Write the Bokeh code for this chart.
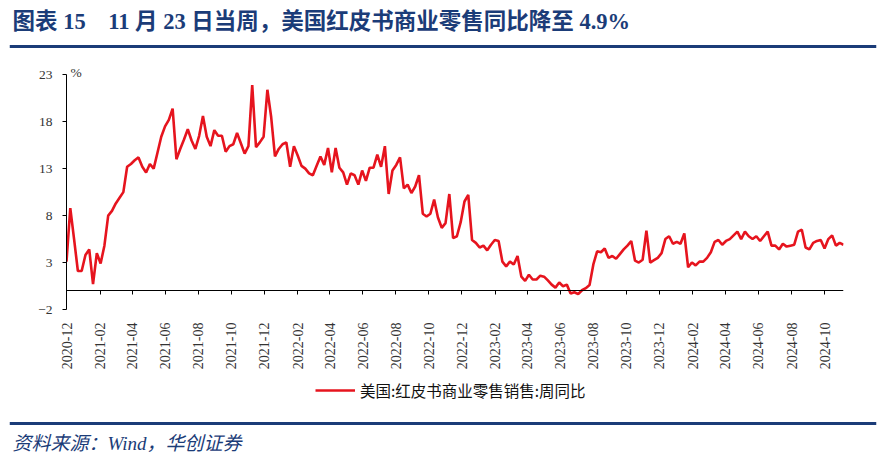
import math
import pandas as pd
from bokeh.plotting import figure
from bokeh.models import (Range1d, FixedTicker, DatetimeTickFormatter, DatetimeAxis,
                          Label, Span, Legend, LegendItem, ColumnDataSource)
from bokeh.embed import file_html
from bokeh.resources import INLINE

# ---------------- data ----------------
title_text = "图表 15　11 月 23 日当周，美国红皮书商业零售同比降至 4.9%"
source_text = "资料来源：Wind，华创证券"
legend_label = "美国:红皮书商业零售销售:周同比"
unit_label = "%"

first_week = "2020-12-19"          # week-ending dates, weekly
values_2021 = [3.1, 8.8, 5.5, 2.1, 2.1, 3.8, 4.4, 0.7, 4.0, 2.9, 4.8, 8.0, 8.5, 9.3, 9.9,
               10.5, 13.2, 13.5, 13.9, 14.2, 13.2, 12.6, 13.5, 13.0, 14.7, 16.4, 17.5, 18.2,
               19.4, 14.0, 15.1, 16.1, 17.2, 16.0, 15.1, 16.5, 18.6, 16.4, 15.4, 17.1, 16.5,
               16.5, 14.8, 15.4, 15.6, 16.8, 15.7, 14.6, 15.4, 21.9, 15.3, 15.8]
values_2022 = [16.4, 21.4, 18.5, 14.3, 15.1, 15.6, 15.8, 13.2, 15.4, 14.4, 13.3, 13.0, 12.5,
               12.3, 13.3, 14.3, 13.4, 15.2, 12.6, 15.2, 13.1, 12.6, 11.3, 12.5, 12.3, 11.3,
               12.8, 11.7, 13.1, 13.1, 14.5, 13.2, 15.4, 10.3, 12.8, 13.4, 14.2, 10.9, 11.3,
               10.4, 11.1, 12.3, 8.2, 7.9, 8.2, 9.7, 7.8, 6.7, 7.2, 10.3, 5.6]
values_2023 = [5.8, 7.3, 9.5, 10.2, 5.4, 5.1, 4.6, 4.8, 4.3, 4.9, 5.4, 5.3, 3.1, 2.6, 3.1,
               2.8, 3.7, 1.5, 1.05, 1.7, 1.2, 1.2, 1.6, 1.5, 1.1, 0.65, 0.33, 0.87, 0.48,
               0.65, -0.3, -0.16, -0.37, 0.05, 0.27, 0.6, 2.8, 4.2, 4.1, 4.5, 3.5, 3.7, 3.4,
               3.9, 4.4, 4.8, 5.3, 3.2, 3.0, 3.3, 6.4, 3.0]
values_2024 = [3.25, 3.5, 4.0, 5.5, 5.8, 5.0, 5.2, 5.0, 6.1, 2.5, 3.0, 2.7, 3.1, 3.1, 3.5,
               4.1, 5.2, 5.4, 4.9, 5.3, 5.5, 5.9, 6.3, 5.5, 6.3, 5.8, 5.5, 5.8, 5.3, 5.8,
               6.3, 4.8, 4.8, 4.4, 5.0, 4.7, 4.8, 4.9, 6.3, 6.5, 4.6, 4.4, 5.1, 5.3, 5.4,
               4.5, 5.5, 5.9, 4.8, 5.1, 4.9]

y_ticks = [-2, 3, 8, 13, 18, 23]
x_tick_labels = ["2020-12", "2021-02", "2021-04", "2021-06", "2021-08", "2021-10",
                 "2021-12", "2022-02", "2022-04", "2022-06", "2022-08", "2022-10",
                 "2022-12", "2023-02", "2023-04", "2023-06", "2023-08", "2023-10",
                 "2023-12", "2024-02", "2024-04", "2024-06", "2024-08", "2024-10"]

# ---------------- build ----------------
values = values_2021 + values_2022 + values_2023 + values_2024
dates = pd.date_range(first_week, periods=len(values), freq="7D")
src = ColumnDataSource(dict(date=dates, value=values))

tick_day = pd.Timestamp(first_week).day
tick_ms = [pd.Timestamp(f"{s}-{tick_day:02d}").value / 1e6 for s in x_tick_labels]
start_ms = dates[0].value / 1e6
end_ms = dates[-1].value / 1e6

NAVY = "#1B3C78"
RED = "#E6141E"
SERIF = "Liberation Serif, Noto Sans CJK SC"
W = 884


def strip(height):
    f = figure(width=W, height=height, x_range=Range1d(0, W - 17), y_range=Range1d(0, height),
               toolbar_location=None, output_backend="svg", x_axis_location=None,
               y_axis_location=None, min_border=0, min_border_left=9, min_border_right=8,
               outline_line_color=None)
    f.grid.visible = False
    return f


# title block (page y 0..52)
head = strip(52)
head.add_layout(Label(x=3, y=31, text=title_text, text_font=SERIF, text_font_size="22.5px",
                      text_font_style="bold", text_color=NAVY, text_baseline="middle"))
head.add_layout(Span(location=6, dimension="width", line_color=NAVY, line_width=3))

# chart (page y 52..369)
p = figure(frame_width=777, frame_height=246, x_axis_type="datetime",
           x_range=Range1d(start_ms, end_ms), y_range=Range1d(-2, 24.2),
           toolbar_location=None, output_backend="svg",
           min_border_left=66, min_border_right=41, min_border_top=11, min_border_bottom=60,
           outline_line_color=None)
p.grid.visible = False
r = p.line(x="date", y="value", source=src, line_color=RED, line_width=2.6)

fmt = DatetimeTickFormatter(milliseconds="%Y-%m", seconds="%Y-%m", minsec="%Y-%m",
                            minutes="%Y-%m", hourmin="%Y-%m", hours="%Y-%m", days="%Y-%m",
                            months="%Y-%m", years="%Y-%m")
xa = p.xaxis[0]
xa.ticker = FixedTicker(ticks=tick_ms)
xa.formatter = fmt
xa.major_label_orientation = math.pi / 2
xa.axis_line_color = None
xa.major_tick_line_color = None
xa.minor_tick_line_color = None
xa.major_label_standoff = 7
xa.major_label_text_font = "Liberation Serif"
xa.major_label_text_font_size = "14px"
xa.major_label_text_color = "#333333"

zaxis = DatetimeAxis(ticker=FixedTicker(ticks=tick_ms), formatter=fmt, fixed_location=0,
                     major_tick_out=4, major_tick_in=0, minor_tick_line_color=None,
                     axis_line_color="#000000", major_tick_line_color="#000000",
                     major_label_text_font_size="1px", major_label_text_color=None,
                     major_label_standoff=0)
p.add_layout(zaxis, "below")

ya = p.yaxis[0]
ya.ticker = FixedTicker(ticks=y_ticks)
ya.bounds = (y_ticks[0], y_ticks[-1])
ya.major_tick_out = 4
ya.major_tick_in = 0
ya.minor_tick_line_color = None
ya.axis_line_color = "#000000"
ya.major_tick_line_color = "#000000"
ya.major_label_standoff = 10
ya.major_label_text_font = "Liberation Serif"
ya.major_label_text_font_size = "13.5px"
ya.major_label_text_color = "#333333"

p.add_layout(Label(x=start_ms, y=y_ticks[-1], text=unit_label, x_offset=4, y_offset=2,
                   text_baseline="middle", text_font="Liberation Serif",
                   text_font_size="13.5px", text_color="#333333"))

# legend, rule and source (page y 369..464)
foot = strip(95)
key = foot.line(x=[float("nan")], y=[float("nan")], line_color=RED, line_width=2.6)
legend = Legend(items=[LegendItem(label=legend_label, renderers=[key])],
                orientation="horizontal", location=(306, 66), border_line_color=None,
                background_fill_alpha=0, label_text_font="Noto Sans CJK SC",
                label_text_font_size="15.5px", label_text_color="#111111",
                glyph_width=40, label_standoff=5, padding=0, margin=0)
foot.add_layout(legend)
foot.add_layout(Span(location=44, dimension="width", line_color=NAVY, line_width=3))
foot.add_layout(Label(x=3, y=24, text=source_text, text_font=SERIF, text_font_size="19px",
                      text_font_style="italic", text_color=NAVY, text_baseline="middle"))

open("out.html", "w").write(file_html([head, p, foot], INLINE))
